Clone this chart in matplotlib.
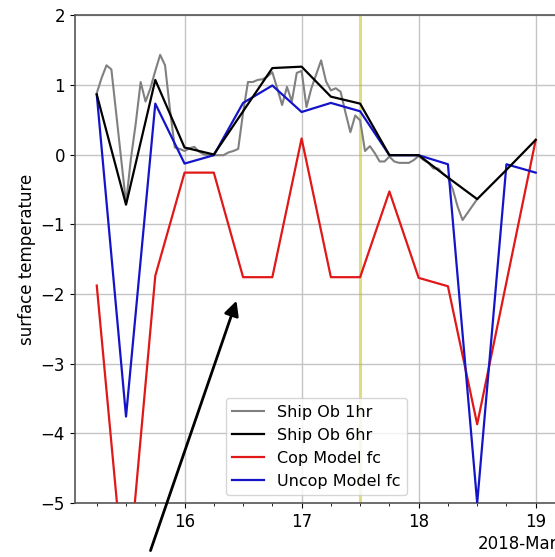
import matplotlib
matplotlib.use("Agg")
import matplotlib.pyplot as plt
import matplotlib.dates as mdates
import pandas as pd

plt.rcParams["font.size"] = 12

# Hourly ship observations (Mar 15 06:00 -> Mar 18 12:00)
ship_1hr_start = "2018-03-15 06:00"
ship_1hr_end = "2018-03-18 12:00"
ship_1hr = [
    0.88, 1.10, 1.28, 1.22, 0.58, -0.06, -0.70, -0.06, 0.45, 1.04,
    0.76, 0.95, 1.20, 1.43, 1.28, 0.65, 0.10, 0.08, 0.05, 0.09,
    0.11, 0.04, 0.00, -0.01, -0.01, -0.01, -0.01, 0.03, 0.05, 0.08,
    0.60, 1.04, 1.04, 1.07, 1.08, 1.12, 1.18, 0.95, 0.71, 0.97,
    0.76, 1.17, 1.20, 0.68, 0.95, 1.15, 1.35, 1.05, 0.92, 0.95,
    0.90, 0.60, 0.32, 0.56, 0.49, 0.05, 0.12, 0.02, -0.10, -0.10,
    -0.03, -0.10, -0.12, -0.12, -0.12, -0.08, -0.02, -0.08, -0.12, -0.20,
    -0.20, -0.28, -0.33, -0.50, -0.75, -0.94, -0.84, -0.74, -0.64,
]

# 6-hourly series (Mar 15 06:00 -> Mar 19 00:00)
six_hr_start = "2018-03-15 06:00"
six_hr_end = "2018-03-19 00:00"
ship_6hr = [0.86, -0.72, 1.07, 0.10, 0.00, 0.62, 1.24, 1.26,
            0.83, 0.73, -0.01, -0.01, -0.33, -0.64, -0.22, 0.21]
cop_fc = [-1.88, -6.40, -1.74, -0.26, -0.26, -1.76, -1.76, 0.23,
          -1.76, -1.76, -0.53, -1.77, -1.89, -3.87, -1.83, 0.21]
uncop_fc = [0.86, -3.76, 0.73, -0.13, -0.01, 0.74, 0.99, 0.61,
            0.74, 0.62, -0.01, -0.01, -0.14, -5.00, -0.14, -0.26]

marker_time = "2018-03-17 12:00"

t1 = pd.date_range(ship_1hr_start, ship_1hr_end, freq="1h")
t6 = pd.date_range(six_hr_start, six_hr_end, freq="6h")

fig = plt.figure(figsize=(5.55, 5.57), dpi=100)
ax = fig.add_axes([0.1348, 0.0969, 0.870, 0.876])

ax.axvline(pd.Timestamp(marker_time), color="y", alpha=0.5, lw=2.2, zorder=1)
ax.plot(t1, ship_1hr, color="grey", lw=1.5, label="Ship Ob 1hr", zorder=3)
ax.plot(t6, ship_6hr, color="black", lw=1.6, label="Ship Ob 6hr", zorder=4)
ax.plot(t6, cop_fc, color="#e01818", lw=1.6, label="Cop Model fc", zorder=3)
ax.plot(t6, uncop_fc, color="#1414c8", lw=1.6, label="Uncop Model fc", zorder=3)

ax.set_ylim(-5, 2)
ax.set_xlim(pd.Timestamp("2018-03-15 01:30"), pd.Timestamp("2018-03-19 04:30"))
ax.set_ylabel("surface temperature", labelpad=3)

locator = mdates.DayLocator()
ax.xaxis.set_major_locator(locator)
ax.xaxis.set_major_formatter(mdates.ConciseDateFormatter(locator))
ax.xaxis.set_minor_locator(mdates.HourLocator(byhour=range(0, 24, 6)))
ax.grid(True, color="#c4c4c4", lw=1.0)
ax.set_axisbelow(True)
for side in ("left", "bottom", "top"):
    ax.spines[side].set_color("#555555")
    ax.spines[side].set_linewidth(1.2)

ax.legend(loc="lower center", framealpha=0.8, fontsize=11.5)

# Pointer to the cop-model trough on Mar 16
ax.annotate("", xy=(pd.Timestamp("2018-03-16 10:50"), -2.06),
            xytext=(pd.Timestamp("2018-03-15 16:50"), -5.72),
            arrowprops=dict(arrowstyle="-|>", color="black", lw=2,
                            mutation_scale=22),
            annotation_clip=False)

fig.savefig("out.png", dpi=100)
